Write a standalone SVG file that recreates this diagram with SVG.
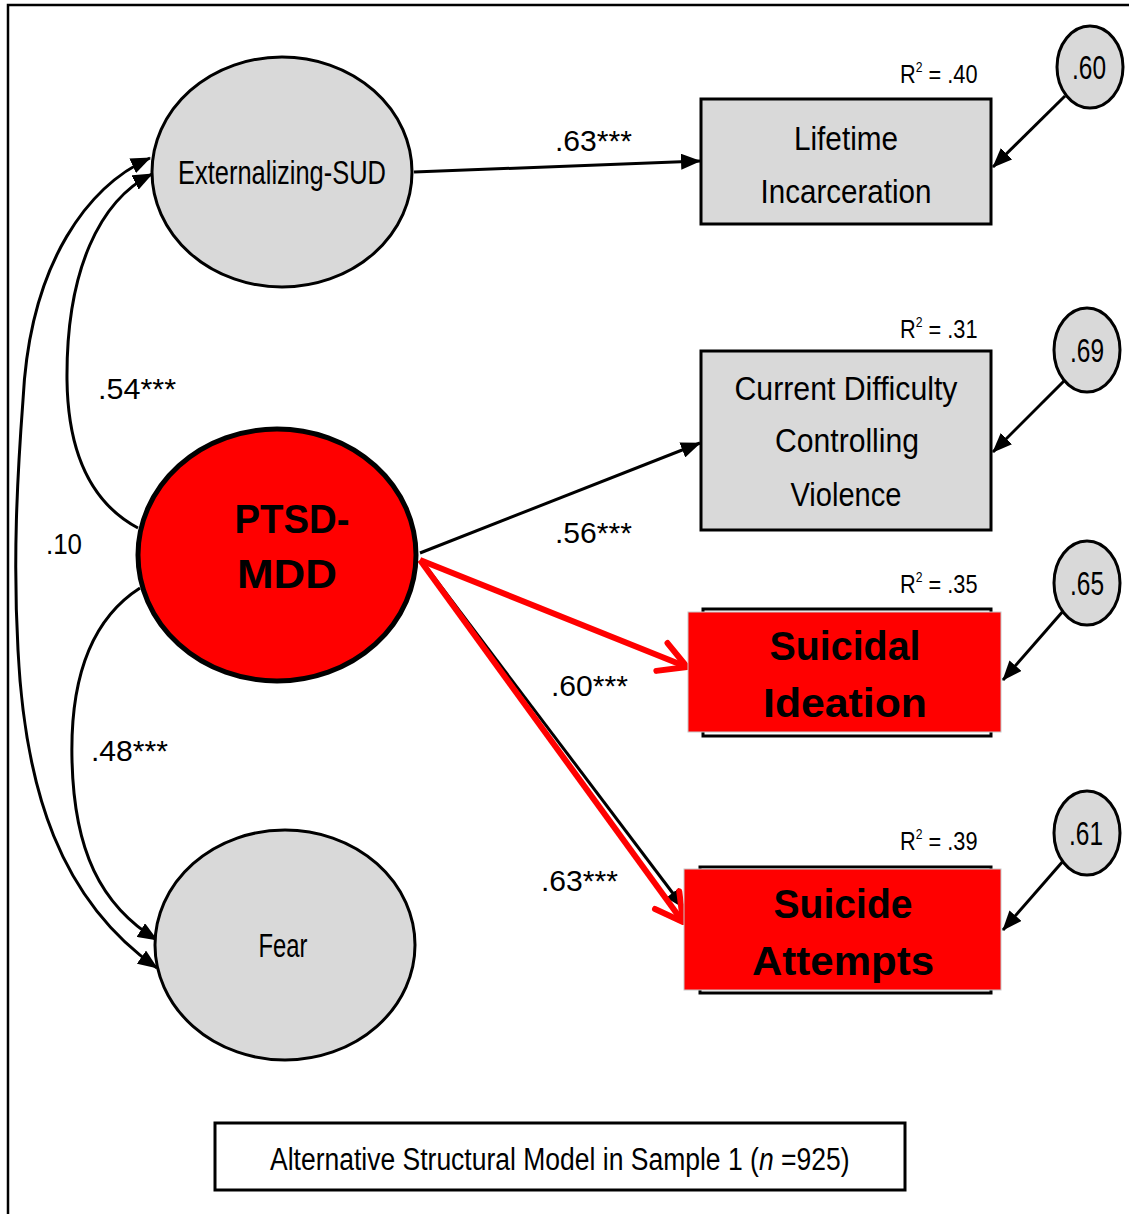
<svg xmlns="http://www.w3.org/2000/svg" width="1129" height="1214" viewBox="0 0 1129 1214">
  <style>
    .lat { fill: #d9d9d9; stroke: #000; stroke-width: 3; }
    .obs { fill: #d9d9d9; stroke: #000; stroke-width: 3; }
    .hot { fill: #ff0000; stroke: #c8c8c8; stroke-width: 1; }
    .rim { fill: none; stroke: #000; stroke-width: 3; }
    .err { fill: #d9d9d9; stroke: #000; stroke-width: 3; }
    .path { fill: none; stroke: #000; stroke-width: 3; marker-end: url(#tip); }
    .both { marker-start: url(#tip); }
    .red { fill: none; stroke: #ff0000; stroke-width: 6; marker-end: url(#vee); }
    text { font-family: "Liberation Sans", Arial, sans-serif; fill: #000; }
    .lbl { font-size: 33px; text-anchor: middle; }
    .big { font-size: 40px; font-weight: bold; text-anchor: middle; }
    .coef { font-size: 29px; }
    .r2 { font-size: 25px; }
    .sup { font-size: 14px; }
    .cap { font-size: 31px; }
  </style>
  <defs>
    <marker id="tip" markerUnits="userSpaceOnUse" viewBox="0 0 20 16" markerWidth="20" markerHeight="16" refX="19" refY="8" orient="auto-start-reverse">
      <path d="M0,0 L20,8 L0,16 z" fill="#000"/>
    </marker>
    <marker id="vee" markerUnits="userSpaceOnUse" viewBox="0 0 40 40" markerWidth="40" markerHeight="40" refX="35" refY="20" orient="auto">
      <path d="M8,5 L35,20 L8,35" fill="none" stroke="#ff0000" stroke-width="6" stroke-linecap="round" stroke-linejoin="round"/>
    </marker>
  </defs>

  <rect width="1129" height="1214" fill="#fff"/>
  <!-- outer frame -->
  <rect x="8" y="5" width="1140" height="1230" fill="none" stroke="#000" stroke-width="2.5"/>

  <g id="connectors">
    <!-- covariances -->
    <path class="path" d="M138,528 C95,505 68,460 67,380 C66,270 100,200 152,174"/>
    <path class="path both" d="M150,158 C90,185 30,260 23,400 C17,480 13,560 18,650 C25,790 60,900 157,968"/>
    <path class="path" d="M140,588 C90,620 70,680 72,760 C74,850 100,905 157,940"/>
    <!-- structural paths -->
    <line class="path" x1="414" y1="172" x2="700" y2="161"/>
    <line class="path" x1="420" y1="553" x2="700" y2="443"/>
    <line class="path" x1="421" y1="560" x2="684" y2="908"/>
    <line class="red" x1="420" y1="560" x2="687" y2="667"/>
    <line class="red" x1="420" y1="560" x2="683" y2="922"/>
    <!-- residual arrows -->
    <line class="path" x1="1065" y1="96" x2="993" y2="167"/>
    <line class="path" x1="1064" y1="381" x2="993" y2="452"/>
    <line class="path" x1="1064" y1="610" x2="1003" y2="680"/>
    <line class="path" x1="1064" y1="860" x2="1003" y2="930"/>
  </g>

  <g id="ext-sud">
    <ellipse class="lat" cx="282" cy="172" rx="130" ry="115"/>
    <text class="lbl" x="282" y="184" textLength="208" lengthAdjust="spacingAndGlyphs">Externalizing-SUD</text>
  </g>

  <g id="ptsd-mdd">
    <ellipse cx="277" cy="555" rx="139" ry="126" fill="#ff0000" stroke="#000" stroke-width="5"/>
    <text class="big" x="292" y="533" textLength="115" lengthAdjust="spacingAndGlyphs">PTSD-</text>
    <text class="big" x="287" y="588" textLength="100" lengthAdjust="spacingAndGlyphs">MDD</text>
  </g>

  <g id="fear">
    <ellipse class="lat" cx="285" cy="945" rx="130" ry="115"/>
    <text class="lbl" x="283" y="957" textLength="49" lengthAdjust="spacingAndGlyphs">Fear</text>
  </g>

  <g id="incarceration">
    <rect class="obs" x="701" y="99" width="290" height="125"/>
    <text class="lbl" x="846" y="150" textLength="104" lengthAdjust="spacingAndGlyphs">Lifetime</text>
    <text class="lbl" x="846" y="203" textLength="171" lengthAdjust="spacingAndGlyphs">Incarceration</text>
    <text class="r2" transform="translate(900,83) scale(0.87,1)">R<tspan class="sup" dy="-11">2</tspan><tspan dy="11"> = .40</tspan></text>
  </g>

  <g id="violence">
    <rect class="obs" x="701" y="351" width="290" height="179"/>
    <text class="lbl" x="846" y="400" textLength="223" lengthAdjust="spacingAndGlyphs">Current Difficulty</text>
    <text class="lbl" x="847" y="452" textLength="144" lengthAdjust="spacingAndGlyphs">Controlling</text>
    <text class="lbl" x="846" y="506" textLength="111" lengthAdjust="spacingAndGlyphs">Violence</text>
    <text class="r2" transform="translate(900,338) scale(0.87,1)">R<tspan class="sup" dy="-11">2</tspan><tspan dy="11"> = .31</tspan></text>
  </g>

  <g id="ideation">
    <rect class="rim" x="703" y="609" width="288" height="127"/>
    <rect class="hot" x="688" y="612" width="313" height="120"/>
    <text class="big" x="845" y="660" textLength="151" lengthAdjust="spacingAndGlyphs">Suicidal</text>
    <text class="big" x="845" y="717" textLength="164" lengthAdjust="spacingAndGlyphs">Ideation</text>
    <text class="r2" transform="translate(900,593) scale(0.87,1)">R<tspan class="sup" dy="-11">2</tspan><tspan dy="11"> = .35</tspan></text>
  </g>

  <g id="attempts">
    <rect class="rim" x="700" y="867" width="291" height="126"/>
    <rect class="hot" x="684" y="869" width="317" height="121"/>
    <text class="big" x="843" y="918" textLength="139" lengthAdjust="spacingAndGlyphs">Suicide</text>
    <text class="big" x="843" y="975" textLength="182" lengthAdjust="spacingAndGlyphs">Attempts</text>
    <text class="r2" transform="translate(900,850) scale(0.87,1)">R<tspan class="sup" dy="-11">2</tspan><tspan dy="11"> = .39</tspan></text>
  </g>

  <g id="e-incarceration">
    <ellipse class="err" cx="1090" cy="67" rx="33" ry="41"/>
    <text class="lbl" x="1089" y="79" font-size="31" textLength="34" lengthAdjust="spacingAndGlyphs">.60</text>
  </g>
  <g id="e-violence">
    <ellipse class="err" cx="1087" cy="350" rx="33" ry="42"/>
    <text class="lbl" x="1087" y="362" font-size="31" textLength="34" lengthAdjust="spacingAndGlyphs">.69</text>
  </g>
  <g id="e-ideation">
    <ellipse class="err" cx="1087" cy="583" rx="33" ry="42"/>
    <text class="lbl" x="1087" y="595" font-size="31" textLength="34" lengthAdjust="spacingAndGlyphs">.65</text>
  </g>
  <g id="e-attempts">
    <ellipse class="err" cx="1087" cy="833" rx="33" ry="42"/>
    <text class="lbl" x="1086" y="845" font-size="31" textLength="34" lengthAdjust="spacingAndGlyphs">.61</text>
  </g>

  <g id="coefficients">
    <text class="coef" x="555" y="151" textLength="77" lengthAdjust="spacingAndGlyphs">.63***</text>
    <text class="coef" x="555" y="543" textLength="77" lengthAdjust="spacingAndGlyphs">.56***</text>
    <text class="coef" x="551" y="696" textLength="77" lengthAdjust="spacingAndGlyphs">.60***</text>
    <text class="coef" x="541" y="891" textLength="77" lengthAdjust="spacingAndGlyphs">.63***</text>
    <text class="coef" x="98" y="399" textLength="78" lengthAdjust="spacingAndGlyphs">.54***</text>
    <text class="coef" x="46" y="554" textLength="36" lengthAdjust="spacingAndGlyphs">.10</text>
    <text class="coef" x="91" y="761" textLength="77" lengthAdjust="spacingAndGlyphs">.48***</text>
  </g>

  <g id="caption">
    <rect x="215" y="1123" width="690" height="67" fill="#fff" stroke="#000" stroke-width="3"/>
    <text class="cap" transform="translate(270,1170) scale(0.855,1)">Alternative Structural Model in Sample 1 (<tspan font-style="italic">n</tspan> =925)</text>
  </g>
</svg>
